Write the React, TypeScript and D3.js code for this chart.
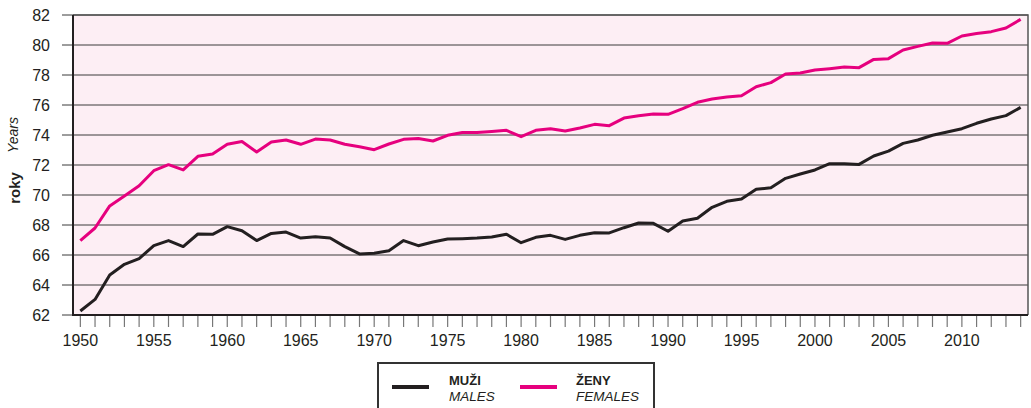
import React, { useEffect, useRef } from 'react';
import * as d3 from 'd3';

const years = d3.range(1950, 2015);

const males = [
  62.27, 63.04, 64.67, 65.38, 65.76, 66.62, 66.96, 66.56, 67.4, 67.38,
  67.89, 67.62, 66.96, 67.44, 67.53, 67.13, 67.22, 67.13, 66.56, 66.07,
  66.11, 66.29, 66.96, 66.62, 66.87, 67.07, 67.09, 67.13, 67.2, 67.38,
  66.82, 67.18, 67.31, 67.04, 67.31, 67.49, 67.47, 67.82, 68.13, 68.11,
  67.58, 68.27, 68.45, 69.18, 69.58, 69.73, 70.38, 70.49, 71.11, 71.4,
  71.67, 72.09, 72.09, 72.04, 72.6, 72.93, 73.44, 73.67, 73.98, 74.2,
  74.42, 74.78, 75.07, 75.29, 75.84,
];

const females = [
  66.96, 67.8, 69.27, 69.93, 70.62, 71.62, 72.02, 71.67, 72.58, 72.73,
  73.38, 73.56, 72.87, 73.53, 73.67, 73.38, 73.73, 73.67, 73.38, 73.22,
  73.02, 73.4, 73.71, 73.76, 73.6, 73.98, 74.16, 74.16, 74.24, 74.31,
  73.89, 74.31, 74.42, 74.27, 74.47, 74.71, 74.62, 75.13, 75.29, 75.4,
  75.38, 75.76, 76.18, 76.4, 76.53, 76.62, 77.22, 77.49, 78.07, 78.13,
  78.33, 78.42, 78.53, 78.49, 79.04, 79.09, 79.67, 79.91, 80.13, 80.11,
  80.6, 80.76, 80.89, 81.13, 81.71,
];

const yTicks = [62, 64, 66, 68, 70, 72, 74, 76, 78, 80, 82];
const xLabelYears = [1950, 1955, 1960, 1965, 1970, 1975, 1980, 1985, 1990, 1995, 2000, 2005, 2010];

const MALE_COLOR = '#231f20';
const FEMALE_COLOR = '#e6007e';

const App = () => {
  const svgRef = useRef<SVGSVGElement>(null);

  useEffect(() => {
    const svg = d3.select(svgRef.current);
    svg.selectAll('*').remove();

    const left = 73;
    const right = 1028;
    const top = 15;
    const bottom = 315;
    const font = '"Liberation Sans", Arial, sans-serif';

    const x = d3.scaleLinear().domain([1949.5, 2014.5]).range([left, right]);
    const y = d3.scaleLinear().domain([62, 82]).range([bottom, top]);

    // plot background
    svg.append('rect')
      .attr('x', left).attr('y', top)
      .attr('width', right - left).attr('height', bottom - top)
      .attr('fill', '#fdeef4');

    // gridlines + y ticks
    svg.append('g').selectAll('line')
      .data(yTicks)
      .enter()
      .append('line')
      .attr('x1', 62).attr('x2', right)
      .attr('y1', (d) => y(d)).attr('y2', (d) => y(d))
      .attr('stroke', '#3a3a3a')
      .attr('stroke-width', 1);

    svg.append('g').selectAll('text')
      .data(yTicks)
      .enter()
      .append('text')
      .attr('x', 50)
      .attr('y', (d) => y(d) + 5.5)
      .attr('text-anchor', 'end')
      .attr('font-family', font)
      .attr('font-size', 16)
      .attr('fill', '#231f20')
      .text((d) => d);

    // top/right frame
    svg.append('path')
      .attr('d', `M${left},${top}H${right}V${bottom}`)
      .attr('fill', 'none')
      .attr('stroke', '#555')
      .attr('stroke-width', 1.5);

    // x ticks
    svg.append('g').selectAll('line')
      .data(years)
      .enter()
      .append('line')
      .attr('x1', (d) => x(d)).attr('x2', (d) => x(d))
      .attr('y1', bottom).attr('y2', bottom + 12)
      .attr('stroke', '#777')
      .attr('stroke-width', 1.2);

    svg.append('g').selectAll('text')
      .data(xLabelYears)
      .enter()
      .append('text')
      .attr('x', (d) => x(d))
      .attr('y', 346)
      .attr('text-anchor', 'middle')
      .attr('font-family', font)
      .attr('font-size', 16)
      .attr('fill', '#231f20')
      .text((d) => d);

    // left/bottom axis lines
    svg.append('path')
      .attr('d', `M${left},${top}V${bottom}H${right}`)
      .attr('fill', 'none')
      .attr('stroke', '#231f20')
      .attr('stroke-width', 2);

    // y axis title
    svg.append('text')
      .attr('transform', `translate(20,188) rotate(-90)`)
      .attr('text-anchor', 'middle')
      .attr('font-family', font)
      .attr('font-size', 15)
      .attr('font-weight', 'bold')
      .attr('fill', '#231f20')
      .text('roky');
    svg.append('text')
      .attr('transform', `translate(18,135) rotate(-90)`)
      .attr('text-anchor', 'middle')
      .attr('font-family', font)
      .attr('font-size', 14)
      .attr('font-style', 'italic')
      .attr('fill', '#231f20')
      .text('Years');

    const line = d3.line<number>()
      .x((_, i) => x(years[i]))
      .y((d) => y(d));

    svg.append('path')
      .datum(males)
      .attr('d', line)
      .attr('fill', 'none')
      .attr('stroke', MALE_COLOR)
      .attr('stroke-width', 3)
      .attr('stroke-linejoin', 'round');

    svg.append('path')
      .datum(females)
      .attr('d', line)
      .attr('fill', 'none')
      .attr('stroke', FEMALE_COLOR)
      .attr('stroke-width', 3)
      .attr('stroke-linejoin', 'round');

    // legend
    const lg = svg.append('g');
    lg.append('rect')
      .attr('x', 378).attr('y', 363)
      .attr('width', 276).attr('height', 60)
      .attr('fill', '#fff')
      .attr('stroke', '#333')
      .attr('stroke-width', 2);

    const items = [
      { lx: 392, tx: 449, title: 'MUŽI', sub: 'MALES', color: MALE_COLOR },
      { lx: 520, tx: 576, title: 'ŽENY', sub: 'FEMALES', color: FEMALE_COLOR },
    ];
    items.forEach((it) => {
      lg.append('line')
        .attr('x1', it.lx).attr('x2', it.lx + 37)
        .attr('y1', 387).attr('y2', 387)
        .attr('stroke', it.color)
        .attr('stroke-width', 4);
      lg.append('text')
        .attr('x', it.tx).attr('y', 385)
        .attr('font-family', font)
        .attr('font-size', 13)
        .attr('font-weight', 'bold')
        .attr('fill', '#231f20')
        .text(it.title);
      lg.append('text')
        .attr('x', it.tx).attr('y', 401)
        .attr('font-family', font)
        .attr('font-size', 13.5)
        .attr('font-style', 'italic')
        .attr('fill', '#231f20')
        .text(it.sub);
    });
  }, []);

  return (
    <svg
      ref={svgRef}
      width={1031}
      height={408}
      style={{ position: 'absolute', left: 0, top: 0 }}
    ></svg>
  );
};

export default App;
